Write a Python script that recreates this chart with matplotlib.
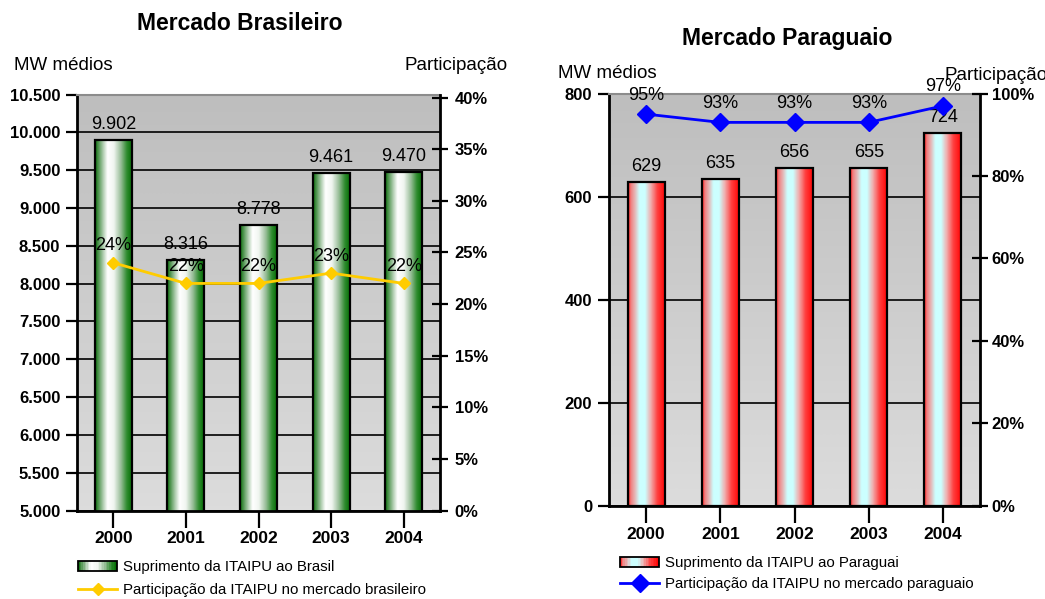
import numpy as np
import matplotlib.pyplot as plt
from matplotlib.colors import LinearSegmentedColormap
from matplotlib.legend_handler import HandlerBase
from matplotlib.patches import Rectangle

plt.rcParams['font.family'] = ['Liberation Sans', 'DejaVu Sans']

years = ['2000', '2001', '2002', '2003', '2004']
br_supply = [9902, 8316, 8778, 9461, 9470]      # MW médios
br_share = [0.24, 0.22, 0.22, 0.23, 0.22]
py_supply = [629, 635, 656, 655, 724]           # MW médios
py_share = [0.95, 0.93, 0.93, 0.93, 0.97]

green = LinearSegmentedColormap.from_list('green_bar', [
    (0.0, '#0a6e0a'), (0.06, '#3d8a3d'), (0.2, '#a9c9a9'), (0.33, '#ffffff'),
    (0.5, '#f0f5f0'), (0.68, '#9abf9a'), (0.85, '#2e8b2e'), (1.0, '#006b00')])
red = LinearSegmentedColormap.from_list('red_bar', [
    (0.0, '#ff1a1a'), (0.07, '#f08080'), (0.17, '#e6b3b3'), (0.3, '#ccffff'),
    (0.45, '#ccffff'), (0.6, '#f0b0b0'), (0.78, '#ff4040'), (1.0, '#ff0000')])
panel = LinearSegmentedColormap.from_list('panel', ['#dcdcdc', '#bebebe'])

TICK_FS = 12
LABEL_FS = 13
AXIS_FS = 13.5


class GradientHandler(HandlerBase):
    """Legend key drawn as a striped horizontal gradient with a black frame."""
    def __init__(self, cmap, n=24):
        super().__init__()
        self.cmap = cmap
        self.n = n

    def create_artists(self, legend, orig_handle, xdescent, ydescent,
                       width, height, fontsize, trans):
        arts = []
        for i in range(self.n):
            arts.append(Rectangle((-xdescent + width * i / self.n, -ydescent),
                                  width / self.n, height,
                                  facecolor=self.cmap((i + 0.5) / self.n),
                                  edgecolor='none', transform=trans))
        arts.append(Rectangle((-xdescent, -ydescent), width, height,
                              facecolor='none', edgecolor='black', lw=1.3,
                              transform=trans))
        return arts


def draw_panel(rect, supply, share, ylim, yticks, yfmt, pct_lim, pct_ticks,
               cmap, line_color, marker_size, bar_width, ypad, rpad):
    ax = fig.add_axes(rect)
    x = np.arange(len(years))
    ax.set_xlim(-0.5, len(years) - 0.5)
    ax.set_ylim(*ylim)

    # vertical gray gradient behind the plot
    ax.imshow(np.linspace(0, 1, 64).reshape(-1, 1), cmap=panel, origin='lower',
              extent=[-0.5, len(years) - 0.5, ylim[0], ylim[1]],
              aspect='auto', interpolation='bilinear', zorder=0)

    bars = ax.bar(x, supply, bar_width, facecolor='none', edgecolor='black',
                  lw=1.6, zorder=3)
    strip = np.linspace(0, 1, 64).reshape(1, -1)
    for b in bars:
        ax.imshow(strip, cmap=cmap, aspect='auto', interpolation='bilinear',
                  extent=[b.get_x(), b.get_x() + b.get_width(),
                          b.get_y(), b.get_y() + b.get_height()], zorder=2)
    for xi, v in zip(x, supply):
        ax.annotate(yfmt(v), (xi, v), xytext=(0, 5), textcoords='offset points',
                    ha='center', va='bottom', fontsize=LABEL_FS)

    ax.set_xlim(-0.5, len(years) - 0.5)
    ax.set_ylim(*ylim)
    ax.set_yticks(yticks)
    ax.set_yticklabels([yfmt(t) for t in yticks])
    ax.set_xticks(x)
    ax.set_xticklabels(years)
    ax.yaxis.grid(True, color='black', lw=1.2)
    for lab in ax.get_xticklabels() + ax.get_yticklabels():
        lab.set_fontweight('bold')
    ax.tick_params(axis='y', direction='out', length=8, width=1.6, pad=ypad,
                   labelsize=TICK_FS)
    ax.tick_params(axis='x', direction='out', length=12, width=1.6, pad=3,
                   labelsize=TICK_FS + 0.5)
    ax.spines['top'].set_color('#8c8c8c')
    ax.spines['top'].set_linewidth(1.5)
    ax.spines['right'].set_visible(False)
    for s in ('left', 'bottom'):
        ax.spines[s].set_linewidth(2)

    ax2 = ax.twinx()
    line, = ax2.plot(x, share, color=line_color, lw=2, marker='D',
                     markersize=marker_size, zorder=4)
    for xi, v in zip(x, share):
        ax2.annotate(f'{v:.0%}', (xi, v), xytext=(0, 3 + marker_size / 2),
                     textcoords='offset points', ha='center', va='bottom',
                     fontsize=LABEL_FS)
    ax2.set_ylim(*pct_lim)
    ax2.set_yticks(pct_ticks)
    ax2.set_yticklabels([f'{t:.0%}' for t in pct_ticks])
    for lab in ax2.get_yticklabels():
        lab.set_fontweight('bold')
    ax2.tick_params(axis='y', direction='inout', length=11, width=1.6, pad=rpad,
                    labelsize=TICK_FS)
    for s in ('top', 'left', 'bottom'):
        ax2.spines[s].set_visible(False)
    ax2.spines['right'].set_linewidth(2)
    return ax, ax2, bars, line


fig = plt.figure(figsize=(10.45, 5.99), dpi=100)

# Brazilian market
br_fmt = lambda v: f'{v:,.0f}'.replace(',', '.')
ax_b, ax_b2, bars_b, line_b = draw_panel(
    [0.0737, 0.1477, 0.3474, 0.6945], br_supply, br_share,
    (5000, 10500), np.arange(5000, 10501, 500), br_fmt,
    (0, 0.403), np.arange(0, 0.401, 0.05), green, '#ffcc00', 6, 0.51, 4, 5)
fig.text(240 / 1045, 1 - 23 / 599, 'Mercado Brasileiro', ha='center',
         va='center', fontsize=16.5, fontweight='bold')
fig.text(14 / 1045, 1 - 66 / 599, 'MW médios', ha='left', va='center',
         fontsize=AXIS_FS)
fig.text(508 / 1045, 1 - 66 / 599, 'Participação', ha='right', va='center',
         fontsize=AXIS_FS)
ax_b2.legend([bars_b, line_b],
             ['Suprimento da ITAIPU ao Brasil',
              'Participação da ITAIPU no mercado brasileiro'],
             handler_map={bars_b: GradientHandler(green)},
             loc='upper left', bbox_to_anchor=(78 / 1045, 1 - 560 / 599),
             bbox_transform=fig.transFigure, frameon=False, fontsize=10.8,
             handlelength=2.6, handleheight=0.7, handletextpad=0.4,
             labelspacing=0.6, borderpad=0, borderaxespad=0, numpoints=1)

# Paraguayan market
py_fmt = lambda v: f'{v:.0f}'
ax_p, ax_p2, bars_p, line_p = draw_panel(
    [0.5828, 0.1553, 0.3550, 0.6886], py_supply, py_share,
    (0, 800), np.arange(0, 801, 200), py_fmt,
    (0, 1.0), np.arange(0, 1.01, 0.2), red, '#0000ff', 9, 0.5, 4, 3)
fig.text(787 / 1045, 1 - 38 / 599, 'Mercado Paraguaio', ha='center',
         va='center', fontsize=16.5, fontweight='bold')
fig.text(558 / 1045, 1 - 73 / 599, 'MW médios', ha='left', va='center',
         fontsize=AXIS_FS)
fig.text(945 / 1045, 1 - 75 / 599, 'Participação', ha='left', va='center',
         fontsize=AXIS_FS)
ax_p2.legend([bars_p, line_p],
             ['Suprimento da ITAIPU ao Paraguai',
              'Participação da ITAIPU no mercado paraguaio'],
             handler_map={bars_p: GradientHandler(red)},
             loc='upper left', bbox_to_anchor=(620 / 1045, 1 - 556 / 599),
             bbox_transform=fig.transFigure, frameon=False, fontsize=10.8,
             handlelength=2.6, handleheight=0.7, handletextpad=0.4,
             labelspacing=0.45, borderpad=0, borderaxespad=0, numpoints=1)

fig.savefig('out.png', dpi=100)
